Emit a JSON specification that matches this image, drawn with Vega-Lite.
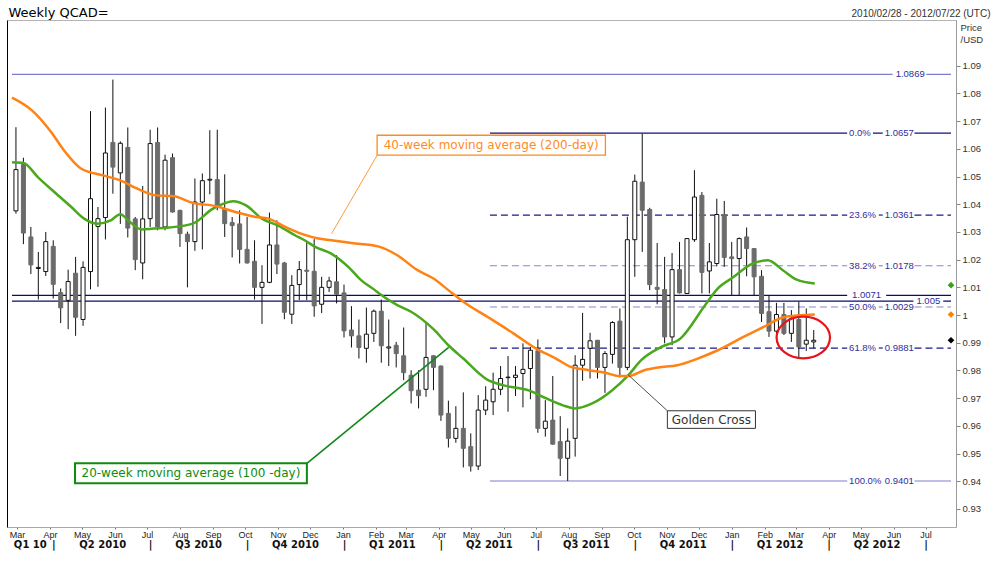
{
  "$schema": "https://vega.github.io/schema/vega-lite/v6.json",
  "width": 949,
  "height": 507,
  "autosize": {"type": "none"},
  "padding": {"left": 7, "top": 20, "right": 40, "bottom": 34},
  "background": "white",
  "config": {"view": {"stroke": null}, "font": "Liberation Sans", "axis": {"grid": false}},
  "datasets": {
    "candles": [
      {"date":"2010-02-28","open":1.0376,"high":1.0678,"low":1.0366,"close":1.0525},
      {"date":"2010-03-07","open":1.0544,"high":1.0568,"low":1.0256,"close":1.0296},
      {"date":"2010-03-14","open":1.0282,"high":1.0318,"low":1.0148,"close":1.0181},
      {"date":"2010-03-21","open":1.0168,"high":1.0228,"low":1.0056,"close":1.0172},
      {"date":"2010-03-28","open":1.0157,"high":1.0300,"low":1.0141,"close":1.0265},
      {"date":"2010-04-04","open":1.0248,"high":1.0270,"low":1.0060,"close":1.0111},
      {"date":"2010-04-11","open":1.0081,"high":1.0096,"low":0.9971,"close":1.0026},
      {"date":"2010-04-18","open":1.0053,"high":1.0164,"low":0.9949,"close":1.0121},
      {"date":"2010-04-25","open":1.0151,"high":1.0210,"low":0.9925,"close":0.9992},
      {"date":"2010-05-02","open":0.9984,"high":1.0194,"low":0.9961,"close":1.0172},
      {"date":"2010-05-09","open":1.0157,"high":1.0736,"low":1.0093,"close":1.0420},
      {"date":"2010-05-16","open":1.0320,"high":1.0390,"low":1.0102,"close":1.0348},
      {"date":"2010-05-23","open":1.0352,"high":1.0749,"low":1.0273,"close":1.0585},
      {"date":"2010-05-30","open":1.0623,"high":1.0850,"low":1.0438,"close":1.0534},
      {"date":"2010-06-06","open":1.0513,"high":1.0627,"low":1.0329,"close":1.0620},
      {"date":"2010-06-13","open":1.0605,"high":1.0677,"low":1.0280,"close":1.0314},
      {"date":"2010-06-20","open":1.0347,"high":1.0354,"low":1.0162,"close":1.0200},
      {"date":"2010-06-27","open":1.0188,"high":1.0466,"low":1.0129,"close":1.0347},
      {"date":"2010-07-04","open":1.0348,"high":1.0669,"low":1.0318,"close":1.0619},
      {"date":"2010-07-11","open":1.0623,"high":1.0677,"low":1.0306,"close":1.0318},
      {"date":"2010-07-18","open":1.0318,"high":1.0579,"low":1.0306,"close":1.0559},
      {"date":"2010-07-25","open":1.0568,"high":1.0583,"low":1.0370,"close":1.0372},
      {"date":"2010-08-01","open":1.0378,"high":1.0380,"low":1.0246,"close":1.0294},
      {"date":"2010-08-08","open":1.0292,"high":1.0301,"low":1.0100,"close":1.0265},
      {"date":"2010-08-15","open":1.0265,"high":1.0493,"low":1.0232,"close":1.0408},
      {"date":"2010-08-22","open":1.0408,"high":1.0511,"low":1.0237,"close":1.0485},
      {"date":"2010-08-29","open":1.0487,"high":1.0667,"low":1.0436,"close":1.0490},
      {"date":"2010-09-05","open":1.0489,"high":1.0669,"low":1.0378,"close":1.0396},
      {"date":"2010-09-12","open":1.0384,"high":1.0508,"low":1.0282,"close":1.0330},
      {"date":"2010-09-19","open":1.0334,"high":1.0354,"low":1.0208,"close":1.0323},
      {"date":"2010-09-26","open":1.0329,"high":1.0378,"low":1.0186,"close":1.0237},
      {"date":"2010-10-03","open":1.0237,"high":1.0354,"low":1.0186,"close":1.0188},
      {"date":"2010-10-10","open":1.0194,"high":1.0270,"low":1.0056,"close":1.0100},
      {"date":"2010-10-17","open":1.0100,"high":1.0180,"low":0.9968,"close":1.0118},
      {"date":"2010-10-24","open":1.0118,"high":1.0370,"low":1.0115,"close":1.0253},
      {"date":"2010-10-31","open":1.0253,"high":1.0342,"low":1.0148,"close":1.0184},
      {"date":"2010-11-07","open":1.0188,"high":1.0192,"low":0.9985,"close":1.0010},
      {"date":"2010-11-14","open":1.0003,"high":1.0144,"low":0.9968,"close":1.0107},
      {"date":"2010-11-21","open":1.0110,"high":1.0195,"low":1.0054,"close":1.0164},
      {"date":"2010-11-28","open":1.0162,"high":1.0264,"low":1.0054,"close":1.0158},
      {"date":"2010-12-05","open":1.0158,"high":1.0274,"low":0.9994,"close":1.0033},
      {"date":"2010-12-12","open":1.0039,"high":1.0138,"low":1.0007,"close":1.0100},
      {"date":"2010-12-19","open":1.0100,"high":1.0138,"low":1.0083,"close":1.0123},
      {"date":"2010-12-26","open":1.0120,"high":1.0216,"low":1.0042,"close":1.0075},
      {"date":"2011-01-02","open":1.0080,"high":1.0110,"low":0.9919,"close":0.9943},
      {"date":"2011-01-09","open":0.9946,"high":1.0032,"low":0.9883,"close":0.9925},
      {"date":"2011-01-16","open":0.9925,"high":0.9984,"low":0.9843,"close":0.9883},
      {"date":"2011-01-23","open":0.9880,"high":1.0027,"low":0.9828,"close":0.9931},
      {"date":"2011-01-30","open":0.9934,"high":1.0020,"low":0.9903,"close":1.0014},
      {"date":"2011-02-06","open":1.0014,"high":1.0056,"low":0.9828,"close":0.9889},
      {"date":"2011-02-13","open":0.9881,"high":0.9984,"low":0.9816,"close":0.9885},
      {"date":"2011-02-20","open":0.9891,"high":0.9903,"low":0.9811,"close":0.9861},
      {"date":"2011-02-27","open":0.9853,"high":0.9955,"low":0.9765,"close":0.9792},
      {"date":"2011-03-06","open":0.9783,"high":0.9801,"low":0.9681,"close":0.9727},
      {"date":"2011-03-13","open":0.9729,"high":0.9801,"low":0.9663,"close":0.9709},
      {"date":"2011-03-20","open":0.9732,"high":0.9972,"low":0.9705,"close":0.9847},
      {"date":"2011-03-27","open":0.9853,"high":0.9855,"low":0.9729,"close":0.9811},
      {"date":"2011-04-03","open":0.9816,"high":0.9818,"low":0.9618,"close":0.9639},
      {"date":"2011-04-10","open":0.9645,"high":0.9691,"low":0.9522,"close":0.9555},
      {"date":"2011-04-17","open":0.9555,"high":0.9671,"low":0.9539,"close":0.9591},
      {"date":"2011-04-24","open":0.9591,"high":0.9721,"low":0.9450,"close":0.9519},
      {"date":"2011-05-01","open":0.9525,"high":0.9573,"low":0.9435,"close":0.9455},
      {"date":"2011-05-08","open":0.9455,"high":0.9711,"low":0.9441,"close":0.9657},
      {"date":"2011-05-15","open":0.9657,"high":0.9743,"low":0.9639,"close":0.9693},
      {"date":"2011-05-22","open":0.9687,"high":0.9792,"low":0.9639,"close":0.9732},
      {"date":"2011-05-29","open":0.9732,"high":0.9816,"low":0.9711,"close":0.9771},
      {"date":"2011-06-05","open":0.9774,"high":0.9852,"low":0.9651,"close":0.9776},
      {"date":"2011-06-12","open":0.9775,"high":0.9816,"low":0.9708,"close":0.9783},
      {"date":"2011-06-19","open":0.9789,"high":0.9898,"low":0.9667,"close":0.9804},
      {"date":"2011-06-26","open":0.9807,"high":0.9885,"low":0.9696,"close":0.9873},
      {"date":"2011-07-03","open":0.9871,"high":0.9912,"low":0.9575,"close":0.9591},
      {"date":"2011-07-10","open":0.9591,"high":0.9693,"low":0.9561,"close":0.9617},
      {"date":"2011-07-17","open":0.9621,"high":0.9780,"low":0.9532,"close":0.9534},
      {"date":"2011-07-24","open":0.9543,"high":0.9635,"low":0.9419,"close":0.9483},
      {"date":"2011-07-31","open":0.9483,"high":0.9591,"low":0.9401,"close":0.9545},
      {"date":"2011-08-07","open":0.9555,"high":0.9855,"low":0.9489,"close":0.9819},
      {"date":"2011-08-14","open":0.9819,"high":1.0008,"low":0.9763,"close":0.9840},
      {"date":"2011-08-21","open":0.9880,"high":0.9936,"low":0.9771,"close":0.9907},
      {"date":"2011-08-28","open":0.9909,"high":0.9910,"low":0.9771,"close":0.9811},
      {"date":"2011-09-04","open":0.9811,"high":0.9870,"low":0.9719,"close":0.9861},
      {"date":"2011-09-11","open":0.9858,"high":0.9978,"low":0.9825,"close":0.9973},
      {"date":"2011-09-18","open":0.9978,"high":1.0024,"low":0.9775,"close":0.9811},
      {"date":"2011-09-25","open":0.9811,"high":1.0355,"low":0.9801,"close":1.0272},
      {"date":"2011-10-02","open":1.0272,"high":1.0507,"low":1.0138,"close":1.0483},
      {"date":"2011-10-09","open":1.0480,"high":1.0655,"low":1.0228,"close":1.0378},
      {"date":"2011-10-16","open":1.0381,"high":1.0387,"low":1.0090,"close":1.0110},
      {"date":"2011-10-23","open":1.0100,"high":1.0260,"low":1.0039,"close":1.0093},
      {"date":"2011-10-30","open":1.0092,"high":1.0210,"low":0.9898,"close":0.9921},
      {"date":"2011-11-06","open":0.9921,"high":1.0224,"low":0.9891,"close":1.0164},
      {"date":"2011-11-13","open":1.0164,"high":1.0264,"low":1.0078,"close":1.0080},
      {"date":"2011-11-20","open":1.0078,"high":1.0278,"low":1.0076,"close":1.0276},
      {"date":"2011-11-27","open":1.0272,"high":1.0523,"low":1.0264,"close":1.0426},
      {"date":"2011-12-04","open":1.0432,"high":1.0444,"low":1.0078,"close":1.0154},
      {"date":"2011-12-11","open":1.0159,"high":1.0260,"low":1.0078,"close":1.0192},
      {"date":"2011-12-18","open":1.0186,"high":1.0420,"low":1.0176,"close":1.0363},
      {"date":"2011-12-25","open":1.0363,"high":1.0412,"low":1.0174,"close":1.0208},
      {"date":"2012-01-01","open":1.0210,"high":1.0264,"low":1.0072,"close":1.0204},
      {"date":"2012-01-08","open":1.0204,"high":1.0280,"low":1.0072,"close":1.0276},
      {"date":"2012-01-15","open":1.0282,"high":1.0316,"low":1.0140,"close":1.0240},
      {"date":"2012-01-22","open":1.0240,"high":1.0242,"low":1.0072,"close":1.0138},
      {"date":"2012-01-29","open":1.0140,"high":1.0162,"low":0.9975,"close":1.0006},
      {"date":"2012-02-05","open":1.0012,"high":1.0072,"low":0.9921,"close":0.9942},
      {"date":"2012-02-12","open":0.9942,"high":1.0044,"low":0.9916,"close":1.0002},
      {"date":"2012-02-19","open":1.0002,"high":1.0044,"low":0.9928,"close":0.9934},
      {"date":"2012-02-26","open":0.9934,"high":1.0018,"low":0.9903,"close":0.9988},
      {"date":"2012-03-04","open":0.9984,"high":1.0048,"low":0.9847,"close":0.9885},
      {"date":"2012-03-11","open":0.9895,"high":1.0024,"low":0.9870,"close":0.9909},
      {"date":"2012-03-18","open":0.9903,"high":0.9946,"low":0.9880,"close":0.9909}
    ],
    "ma": [
      {"series":"20-week","date":"2010-02-24T07:00:00Z","value":1.0552},
      {"series":"20-week","date":"2010-03-07","value":1.0549},
      {"series":"20-week","date":"2010-03-21","value":1.0496},
      {"series":"20-week","date":"2010-04-05","value":1.0444},
      {"series":"20-week","date":"2010-04-21","value":1.0390},
      {"series":"20-week","date":"2010-05-03","value":1.0348},
      {"series":"20-week","date":"2010-05-15","value":1.0330},
      {"series":"20-week","date":"2010-05-28","value":1.0342},
      {"series":"20-week","date":"2010-06-06","value":1.0364},
      {"series":"20-week","date":"2010-06-15","value":1.0336},
      {"series":"20-week","date":"2010-06-26","value":1.0309},
      {"series":"20-week","date":"2010-07-07","value":1.0312},
      {"series":"20-week","date":"2010-07-22","value":1.0316},
      {"series":"20-week","date":"2010-08-13","value":1.0330},
      {"series":"20-week","date":"2010-09-01","value":1.0384},
      {"series":"20-week","date":"2010-09-20","value":1.0411},
      {"series":"20-week","date":"2010-10-02","value":1.0396},
      {"series":"20-week","date":"2010-10-17","value":1.0348},
      {"series":"20-week","date":"2010-11-02","value":1.0321},
      {"series":"20-week","date":"2010-11-17","value":1.0288},
      {"series":"20-week","date":"2010-11-26","value":1.0270},
      {"series":"20-week","date":"2010-12-06","value":1.0246},
      {"series":"20-week","date":"2010-12-21","value":1.0222},
      {"series":"20-week","date":"2011-01-06","value":1.0174},
      {"series":"20-week","date":"2011-01-18","value":1.0126},
      {"series":"20-week","date":"2011-01-31","value":1.0090},
      {"series":"20-week","date":"2011-02-06","value":1.0072},
      {"series":"20-week","date":"2011-02-21","value":1.0036},
      {"series":"20-week","date":"2011-03-06","value":1.0012},
      {"series":"20-week","date":"2011-03-27","value":0.9949},
      {"series":"20-week","date":"2011-04-10","value":0.9891},
      {"series":"20-week","date":"2011-04-24","value":0.9843},
      {"series":"20-week","date":"2011-05-16","value":0.9768},
      {"series":"20-week","date":"2011-05-31","value":0.9747},
      {"series":"20-week","date":"2011-06-25","value":0.9727},
      {"series":"20-week","date":"2011-07-11","value":0.9699},
      {"series":"20-week","date":"2011-07-26","value":0.9675},
      {"series":"20-week","date":"2011-08-07","value":0.9663},
      {"series":"20-week","date":"2011-08-23","value":0.9681},
      {"series":"20-week","date":"2011-09-10","value":0.9726},
      {"series":"20-week","date":"2011-09-26","value":0.9783},
      {"series":"20-week","date":"2011-10-08","value":0.9837},
      {"series":"20-week","date":"2011-10-27","value":0.9885},
      {"series":"20-week","date":"2011-11-14","value":0.9916},
      {"series":"20-week","date":"2011-12-06","value":1.0030},
      {"series":"20-week","date":"2011-12-19","value":1.0096},
      {"series":"20-week","date":"2012-01-03","value":1.0138},
      {"series":"20-week","date":"2012-01-19","value":1.0183},
      {"series":"20-week","date":"2012-02-04","value":1.0198},
      {"series":"20-week","date":"2012-02-18","value":1.0162},
      {"series":"20-week","date":"2012-03-02","value":1.0128},
      {"series":"20-week","date":"2012-03-19","value":1.0114},
      {"series":"40-week","date":"2010-02-24T07:00:00Z","value":1.0785},
      {"series":"40-week","date":"2010-03-15","value":1.0739},
      {"series":"40-week","date":"2010-04-02","value":1.0661},
      {"series":"40-week","date":"2010-04-14","value":1.0595},
      {"series":"40-week","date":"2010-04-30","value":1.0529},
      {"series":"40-week","date":"2010-05-21","value":1.0504},
      {"series":"40-week","date":"2010-06-06","value":1.0486},
      {"series":"40-week","date":"2010-06-22","value":1.0456},
      {"series":"40-week","date":"2010-07-10","value":1.0432},
      {"series":"40-week","date":"2010-07-26","value":1.0429},
      {"series":"40-week","date":"2010-08-13","value":1.0405},
      {"series":"40-week","date":"2010-09-04","value":1.0393},
      {"series":"40-week","date":"2010-09-22","value":1.0372},
      {"series":"40-week","date":"2010-10-11","value":1.0354},
      {"series":"40-week","date":"2010-10-23","value":1.0348},
      {"series":"40-week","date":"2010-11-08","value":1.0318},
      {"series":"40-week","date":"2010-11-24","value":1.0292},
      {"series":"40-week","date":"2010-12-09","value":1.0276},
      {"series":"40-week","date":"2010-12-21","value":1.0270},
      {"series":"40-week","date":"2011-01-09","value":1.0260},
      {"series":"40-week","date":"2011-02-03","value":1.0248},
      {"series":"40-week","date":"2011-02-21","value":1.0216},
      {"series":"40-week","date":"2011-03-12","value":1.0162},
      {"series":"40-week","date":"2011-03-27","value":1.0132},
      {"series":"40-week","date":"2011-04-10","value":1.0090},
      {"series":"40-week","date":"2011-04-24","value":1.0048},
      {"series":"40-week","date":"2011-05-19","value":0.9988},
      {"series":"40-week","date":"2011-06-10","value":0.9934},
      {"series":"40-week","date":"2011-07-01","value":0.9880},
      {"series":"40-week","date":"2011-07-20","value":0.9843},
      {"series":"40-week","date":"2011-08-01","value":0.9816},
      {"series":"40-week","date":"2011-08-20","value":0.9801},
      {"series":"40-week","date":"2011-09-04","value":0.9792},
      {"series":"40-week","date":"2011-09-17","value":0.9780},
      {"series":"40-week","date":"2011-09-26","value":0.9780},
      {"series":"40-week","date":"2011-10-11","value":0.9801},
      {"series":"40-week","date":"2011-10-24","value":0.9811},
      {"series":"40-week","date":"2011-11-11","value":0.9819},
      {"series":"40-week","date":"2011-11-30","value":0.9843},
      {"series":"40-week","date":"2011-12-19","value":0.9873},
      {"series":"40-week","date":"2012-01-12","value":0.9921},
      {"series":"40-week","date":"2012-01-31","value":0.9957},
      {"series":"40-week","date":"2012-02-18","value":0.9991},
      {"series":"40-week","date":"2012-03-05","value":0.9999},
      {"series":"40-week","date":"2012-03-19","value":1.0002}
    ],
    "levels": [
      {"ref":"1.0869","value":1.0869,"start":"2010-02-24T07:00:00Z","end":"2012-05-31T02:00:00Z"},
      {"ref":"1.0869","value":1.0869,"start":"2012-07-01T17:00:00Z","end":"2012-07-24T21:00:00Z"},
      {"ref":"0.0%","value":1.0657,"start":"2011-05-19","end":"2012-04-18T10:00:00Z"},
      {"ref":"0.0%","value":1.0657,"start":"2012-05-12T14:00:00Z","end":"2012-05-21T19:00:00Z"},
      {"ref":"0.0%","value":1.0657,"start":"2012-06-20T14:00:00Z","end":"2012-07-24T21:00:00Z"},
      {"ref":"23.6%","value":1.0361,"start":"2011-05-19","end":"2012-04-18T10:00:00Z"},
      {"ref":"23.6%","value":1.0361,"start":"2012-05-18T02:00:00Z","end":"2012-05-21T19:00:00Z"},
      {"ref":"23.6%","value":1.0361,"start":"2012-06-20T14:00:00Z","end":"2012-07-24T21:00:00Z"},
      {"ref":"38.2%","value":1.0178,"start":"2011-05-19","end":"2012-04-18T10:00:00Z"},
      {"ref":"38.2%","value":1.0178,"start":"2012-05-18T02:00:00Z","end":"2012-05-21T19:00:00Z"},
      {"ref":"38.2%","value":1.0178,"start":"2012-06-20T14:00:00Z","end":"2012-07-24T21:00:00Z"},
      {"ref":"1.0071","value":1.0071,"start":"2010-02-24T07:00:00Z","end":"2012-04-18T10:00:00Z"},
      {"ref":"1.0071","value":1.0071,"start":"2012-05-25T00:00:00Z","end":"2012-07-24T21:00:00Z"},
      {"ref":"1.005","value":1.005,"start":"2010-02-24T07:00:00Z","end":"2012-06-19T14:00:00Z"},
      {"ref":"1.005","value":1.005,"start":"2012-07-17T14:00:00Z","end":"2012-07-24T21:00:00Z"},
      {"ref":"50.0%","value":1.0029,"start":"2011-05-19","end":"2012-04-18T10:00:00Z"},
      {"ref":"50.0%","value":1.0029,"start":"2012-05-18T02:00:00Z","end":"2012-05-21T19:00:00Z"},
      {"ref":"50.0%","value":1.0029,"start":"2012-06-20T14:00:00Z","end":"2012-07-24T21:00:00Z"},
      {"ref":"61.8%","value":0.9881,"start":"2011-05-19","end":"2012-04-18T10:00:00Z"},
      {"ref":"61.8%","value":0.9881,"start":"2012-05-18T02:00:00Z","end":"2012-05-21T19:00:00Z"},
      {"ref":"61.8%","value":0.9881,"start":"2012-06-20T14:00:00Z","end":"2012-07-24T21:00:00Z"},
      {"ref":"100.0%","value":0.9401,"start":"2011-05-19","end":"2012-04-18T10:00:00Z"},
      {"ref":"100.0%","value":0.9401,"start":"2012-06-20T14:00:00Z","end":"2012-07-24T21:00:00Z"}
    ],
    "levelLabels": [
      {"label":"1.0869","value":1.0869,"date":"2012-06-02T22:00:00Z"},
      {"label":"0.0%","value":1.0657,"date":"2012-04-20T05:00:00Z"},
      {"label":"1.0657","value":1.0657,"date":"2012-05-23T17:00:00Z"},
      {"label":"23.6%","value":1.0361,"date":"2012-04-20T05:00:00Z"},
      {"label":"1.0361","value":1.0361,"date":"2012-05-23T17:00:00Z"},
      {"label":"38.2%","value":1.0178,"date":"2012-04-20T05:00:00Z"},
      {"label":"1.0178","value":1.0178,"date":"2012-05-23T17:00:00Z"},
      {"label":"1.0071","value":1.0071,"date":"2012-04-23T00:00:00Z"},
      {"label":"1.005","value":1.005,"date":"2012-06-22T10:00:00Z"},
      {"label":"50.0%","value":1.0029,"date":"2012-04-20T05:00:00Z"},
      {"label":"1.0029","value":1.0029,"date":"2012-05-23T17:00:00Z"},
      {"label":"61.8%","value":0.9881,"date":"2012-04-20T05:00:00Z"},
      {"label":"0.9881","value":0.9881,"date":"2012-05-23T17:00:00Z"},
      {"label":"100.0%","value":0.9401,"date":"2012-04-20T05:00:00Z"},
      {"label":"0.9401","value":0.9401,"date":"2012-05-23T17:00:00Z"}
    ],
    "notes": [
      {"label":"40-week moving average (200-day)","x1":"2011-02-02T02:00:00Z","x2":"2011-09-04T10:00:00Z","y1":1.0649,"y2":1.0577,"tx":"2011-05-20T05:00:00Z","ty":1.0613},
      {"label":"20-week moving average (100 -day)","x1":"2010-04-24T11:00:00Z","x2":"2010-11-28T03:30:00Z","y1":0.94648,"y2":0.93927,"tx":"2010-08-11T07:00:00Z","ty":0.94288},
      {"label":"Golden Cross","x1":"2011-11-01T14:00:00Z","x2":"2012-01-23T07:00:00Z","y1":0.96545,"y2":0.9591,"tx":"2011-12-12T22:00:00Z","ty":0.96228}
    ],
    "leaders": [
      {"label":"40-week moving average (200-day)","x1":"2011-02-02T02:00:00Z","y1":1.05766,"x2":"2010-12-21T09:00:00Z","y2":1.02942},
      {"label":"20-week moving average (100 -day)","x1":"2010-11-28T03:30:00Z","y1":0.94648,"x2":"2011-04-10T06:00:00Z","y2":0.98831},
      {"label":"Golden Cross","x1":"2011-09-26T01:00:00Z","y1":0.97832,"x2":"2011-11-01T14:00:00Z","y2":0.96545}
    ],
    "markers": [
      {"series":"20-week","date":"2012-07-24T21:00:00Z","value":1.0108},
      {"series":"40-week","date":"2012-07-24T21:00:00Z","value":1.0002},
      {"series":"close","date":"2012-07-24T21:00:00Z","value":0.9909}
    ],
    "circle": [
      {"date":"2012-03-08T05:00:00Z","value":0.9919}
    ]
  },
  "resolve": {
    "scale": {"color": "independent", "stroke": "independent", "strokeDash": "independent", "strokeWidth": "independent"},
    "axis": {"x": "independent", "y": "independent"}
  },
  "layer": [
    {
      "data": {"name": "levels"},
      "mark": {"type": "rule", "strokeWidth": 1.2},
      "encoding": {
        "x": {
          "field": "start", "type": "temporal",
          "scale": {"type": "utc", "domain": [{"year": 2010, "month": 2, "date": 24, "hours": 7, "utc": true}, {"year": 2012, "month": 7, "date": 24, "hours": 21, "utc": true}]},
          "axis": {
            "orient": "bottom", "tickCount": {"interval": "month", "step": 1},
            "labelExpr": "utcFormat(datum.value, '%b')",
            "labelFont": "Liberation Sans Narrow, Liberation Sans", "labelFontSize": 9, "labelColor": "#222",
            "labelPadding": 1, "tickSize": 2, "tickColor": "#777", "domainColor": "#aaaaaa",
            "labelOverlap": false, "labelFlush": false, "labelBound": false, "title": null, "grid": false
          }
        },
        "x2": {"field": "end"},
        "y": {
          "field": "value", "type": "quantitative",
          "scale": {"domain": [0.9235, 1.1065], "zero": false, "nice": false},
          "axis": {
            "orient": "right",
            "values": [0.93, 0.94, 0.95, 0.96, 0.97, 0.98, 0.99, 1, 1.01, 1.02, 1.03, 1.04, 1.05, 1.06, 1.07, 1.08, 1.09],
            "format": "~g", "labelFont": "Liberation Sans", "labelFontSize": 9.5, "labelColor": "#333",
            "tickSize": 4, "tickColor": "#888", "domainColor": "#999999", "labelPadding": 2,
            "labelOverlap": false, "labelBound": false, "labelFlush": false,
            "title": ["Price", "/USD"], "titleAngle": 0, "titleX": 4, "titleY": 2, "titleAlign": "left",
            "titleBaseline": "top", "titleFont": "Liberation Sans", "titleFontSize": 9.5, "titleFontWeight": "normal",
            "titleColor": "#333", "titleLineHeight": 12, "grid": false
          }
        },
        "color": {
          "field": "ref", "type": "nominal", "legend": null,
          "scale": {"domain": ["1.0869", "0.0%", "23.6%", "38.2%", "1.0071", "1.005", "50.0%", "61.8%", "100.0%"],
                    "range": ["#7d7dd0", "#10107a", "#1a1a8a", "#8585d3", "#0c0c70", "#0c0c70", "#8585d3", "#1a1a8a", "#7d7dd0"]}
        },
        "strokeDash": {
          "field": "ref", "type": "nominal", "legend": null,
          "scale": {"domain": ["1.0869", "0.0%", "23.6%", "38.2%", "1.0071", "1.005", "50.0%", "61.8%", "100.0%"],
                    "range": [[1, 0], [1, 0], [7, 4], [7, 4], [1, 0], [1, 0], [7, 4], [7, 4], [1, 0]]}
        }
      }
    },
    {
      "data": {"name": "levelLabels"},
      "mark": {"type": "text", "align": "left", "baseline": "middle", "font": "Liberation Sans", "fontSize": 9.5, "color": "#2e2e9e"},
      "encoding": {
        "x": {"field": "date", "type": "temporal", "axis": null},
        "y": {"field": "value", "type": "quantitative", "axis": null},
        "text": {"field": "label"}
      }
    },
    {
      "data": {"name": "candles"},
      "mark": {"type": "rule", "color": "#111", "strokeWidth": 1},
      "encoding": {
        "x": {
          "field": "date", "type": "temporal",
          "axis": {
            "orient": "bottom", "offset": 12,
            "values": [
              {"year": 2010, "month": 3, "date": 13, "utc": true},
              {"year": 2010, "month": 4, "date": 4, "utc": true},
              {"year": 2010, "month": 5, "date": 20, "utc": true},
              {"year": 2010, "month": 7, "date": 4, "utc": true},
              {"year": 2010, "month": 8, "date": 18, "utc": true},
              {"year": 2010, "month": 10, "date": 3, "utc": true},
              {"year": 2010, "month": 11, "date": 17, "utc": true},
              {"year": 2011, "month": 1, "date": 2, "utc": true},
              {"year": 2011, "month": 2, "date": 16, "utc": true},
              {"year": 2011, "month": 4, "date": 3, "utc": true},
              {"year": 2011, "month": 5, "date": 18, "utc": true},
              {"year": 2011, "month": 7, "date": 3, "utc": true},
              {"year": 2011, "month": 8, "date": 17, "utc": true},
              {"year": 2011, "month": 10, "date": 2, "utc": true},
              {"year": 2011, "month": 11, "date": 16, "utc": true},
              {"year": 2012, "month": 1, "date": 1, "utc": true},
              {"year": 2012, "month": 2, "date": 15, "utc": true},
              {"year": 2012, "month": 4, "date": 1, "utc": true},
              {"year": 2012, "month": 5, "date": 16, "utc": true},
              {"year": 2012, "month": 7, "date": 1, "utc": true}
            ],
            "labelExpr": "utcdate(datum.value) <= 4 ? '|' : (utcyear(datum.value) == 2010 && utcmonth(datum.value) == 2 ? 'Q1 10' : 'Q' + (floor(utcmonth(datum.value) / 3) + 1) + ' ' + utcyear(datum.value))",
            "labelFont": "DejaVu Sans", "labelFontSize": 10, "labelFontWeight": "bold", "labelColor": "#111",
            "ticks": false, "tickSize": 0, "domain": false, "labelPadding": 0,
            "labelOverlap": false, "labelFlush": false, "labelBound": false, "title": null, "grid": false
          }
        },
        "y": {
          "field": "low", "type": "quantitative",
          "axis": {"orient": "left", "labels": false, "ticks": false, "domain": true, "domainColor": "#000000", "domainWidth": 1, "title": null, "grid": false}
        },
        "y2": {"field": "high"}
      }
    },
    {
      "data": {"name": "candles"},
      "mark": {"type": "bar", "width": 4, "strokeWidth": 1},
      "encoding": {
        "x": {
          "field": "date", "type": "temporal",
          "axis": {
            "orient": "top", "labels": false, "ticks": false, "domain": true, "domainColor": "#b4b4b4",
            "title": "Weekly QCAD=", "titleX": 1, "titleY": -4, "titleAlign": "left", "titleAnchor": "start",
            "titleBaseline": "alphabetic", "titleFont": "DejaVu Sans", "titleFontSize": 13, "titleFontWeight": "normal",
            "titleColor": "#000", "grid": false
          }
        },
        "y": {"field": "open", "type": "quantitative", "axis": null},
        "y2": {"field": "close"},
        "fill": {"condition": {"test": "datum.close >= datum.open", "value": "#ffffff"}, "value": "#6b6b6b"},
        "stroke": {"condition": {"test": "datum.close >= datum.open", "value": "#111111"}, "value": "#6b6b6b"}
      }
    },
    {
      "data": {"name": "ma"},
      "mark": {"type": "line", "strokeWidth": 2.5, "interpolate": "monotone"},
      "encoding": {
        "x": {
          "field": "date", "type": "temporal",
          "axis": {
            "orient": "top", "labels": false, "ticks": false, "domain": false,
            "title": "2010/02/28 - 2012/07/22 (UTC)", "titleX": 983, "titleY": -4, "titleAlign": "right",
            "titleBaseline": "alphabetic", "titleFont": "Liberation Sans", "titleFontSize": 10, "titleFontWeight": "normal",
            "titleColor": "#333", "grid": false
          }
        },
        "y": {"field": "value", "type": "quantitative", "axis": null},
        "color": {"field": "series", "type": "nominal", "legend": null, "scale": {"domain": ["20-week", "40-week"], "range": ["#4aa81c", "#ff8213"]}}
      }
    },
    {
      "data": {"name": "leaders"},
      "mark": {"type": "rule"},
      "encoding": {
        "x": {"field": "x1", "type": "temporal", "axis": null},
        "x2": {"field": "x2"},
        "y": {"field": "y1", "type": "quantitative", "axis": null},
        "y2": {"field": "y2"},
        "color": {"field": "label", "type": "nominal", "legend": null,
                  "scale": {"domain": ["40-week moving average (200-day)", "20-week moving average (100 -day)", "Golden Cross"], "range": ["#ff9a3c", "#11881a", "#222222"]}},
        "strokeWidth": {"field": "label", "type": "nominal", "legend": null,
                  "scale": {"type": "ordinal", "domain": ["40-week moving average (200-day)", "20-week moving average (100 -day)", "Golden Cross"], "range": [1, 1.6, 0.8]}}
      }
    },
    {
      "data": {"name": "notes"},
      "mark": {"type": "rect", "fill": "#ffffff"},
      "encoding": {
        "x": {"field": "x1", "type": "temporal", "axis": null},
        "x2": {"field": "x2"},
        "y": {"field": "y1", "type": "quantitative", "axis": null},
        "y2": {"field": "y2"},
        "stroke": {"field": "label", "type": "nominal", "legend": null,
                  "scale": {"domain": ["40-week moving average (200-day)", "20-week moving average (100 -day)", "Golden Cross"], "range": ["#ff8a1f", "#0e8c0e", "#333333"]}},
        "strokeWidth": {"field": "label", "type": "nominal", "legend": null,
                  "scale": {"type": "ordinal", "domain": ["40-week moving average (200-day)", "20-week moving average (100 -day)", "Golden Cross"], "range": [1.3, 2, 1]}}
      }
    },
    {
      "data": {"name": "notes"},
      "mark": {"type": "text", "align": "center", "baseline": "middle", "font": "DejaVu Sans", "fontSize": 12},
      "encoding": {
        "x": {"field": "tx", "type": "temporal", "axis": null},
        "y": {"field": "ty", "type": "quantitative", "axis": null},
        "text": {"field": "label"},
        "color": {"field": "label", "type": "nominal", "legend": null,
                  "scale": {"domain": ["40-week moving average (200-day)", "20-week moving average (100 -day)", "Golden Cross"], "range": ["#ff8a1f", "#0e8c0e", "#333333"]}}
      }
    },
    {
      "data": {"name": "circle"},
      "mark": {
        "type": "point", "filled": false, "stroke": "#e8141a", "strokeWidth": 2.2, "size": 2852, "opacity": 1,
        "shape": "M -1 0 C -1 -0.4308 -0.5523 -0.78 0 -0.78 C 0.5523 -0.78 1 -0.4308 1 0 C 1 0.4308 0.5523 0.78 0 0.78 C -0.5523 0.78 -1 0.4308 -1 0 Z"
      },
      "encoding": {
        "x": {"field": "date", "type": "temporal", "axis": null},
        "y": {"field": "value", "type": "quantitative", "axis": null}
      }
    },
    {
      "data": {"name": "markers"},
      "mark": {"type": "point", "shape": "diamond", "filled": true, "size": 45, "opacity": 1},
      "encoding": {
        "x": {"field": "date", "type": "temporal", "axis": null},
        "y": {"field": "value", "type": "quantitative", "axis": null},
        "color": {"field": "series", "type": "nominal", "legend": null, "scale": {"domain": ["20-week", "40-week", "close"], "range": ["#3ca01e", "#ff8000", "#000000"]}}
      }
    }
  ]
}
